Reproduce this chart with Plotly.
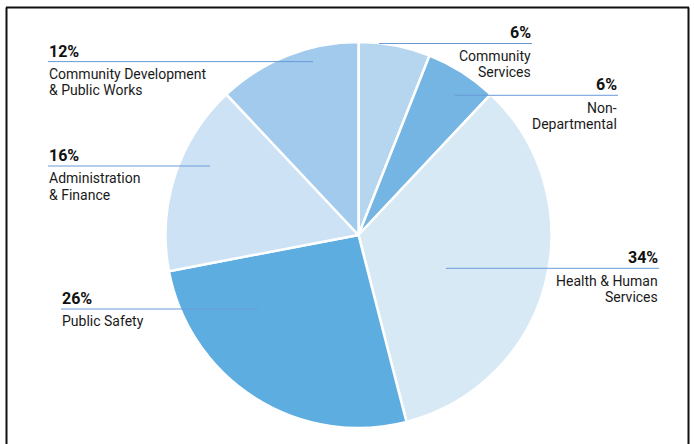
import plotly.graph_objects as go

W, H = 694, 444

# Budget shares by department, clockwise from 12 o'clock
departments = [
    "Community Services",
    "Non-Departmental",
    "Health & Human Services",
    "Public Safety",
    "Administration & Finance",
    "Community Development & Public Works",
]
shares = [6, 6, 34, 26, 16, 12]
name_lines = [
    ["Community", "Services"],
    ["Non-", "Departmental"],
    ["Health & Human", "Services"],
    ["Public Safety"],
    ["Administration", "& Finance"],
    ["Community Development", "& Public Works"],
]
slice_colors = ["#b6d6f0", "#74b5e3", "#d8e9f6", "#5dade0", "#cee2f5", "#a1caec"]

# Callout layout in pixels: text side, text edge x, leader y, leader far x
callouts = [
    ("right", 532, 43.5, 379),
    ("right", 618, 95.3, 455),
    ("right", 659, 268.3, 446),
    ("left", 61, 309.0, 258),
    ("left", 48, 166.0, 210),
    ("left", 48, 61.6, 313),
]

FONT = "Roboto, Liberation Sans, sans-serif"
LEADER = "#6a9bd8"

cx, cy, r = 358.5, 235.0, 193.0


def px(x):
    return x / W


def py(y):
    return 1 - y / H


fig = go.Figure(
    go.Pie(
        labels=departments,
        values=shares,
        sort=False,
        direction="clockwise",
        rotation=0,
        textinfo="none",
        hoverinfo="label+percent",
        marker=dict(colors=slice_colors, line=dict(color="white", width=2.5)),
        domain=dict(x=[px(cx - r), px(cx + r)], y=[py(cy + r), py(cy - r)]),
        showlegend=False,
    )
)

annotations = []
shapes = []
for v, lines, (side, tx, ly, fx) in zip(shares, name_lines, callouts):
    anchor = "left" if side == "left" else "right"
    shapes.append(
        dict(type="line", xref="paper", yref="paper",
             x0=px(tx), x1=px(fx), y0=py(ly), y1=py(ly),
             line=dict(color=LEADER, width=1))
    )
    annotations.append(
        dict(text=f"<b>{v}%</b>", x=px(tx), y=py(ly - 10.6), xref="paper", yref="paper",
             xanchor=anchor, yanchor="middle", showarrow=False, align=anchor, borderpad=0,
             font=dict(family=FONT, size=16, color="#111111"))
    )
    for i, line in enumerate(lines):
        annotations.append(
            dict(text=line, x=px(tx), y=py(ly + 12.3 + 16.5 * i), xref="paper", yref="paper",
                 xanchor=anchor, yanchor="middle", showarrow=False, align=anchor, borderpad=0,
                 font=dict(family=FONT, size=14, color="#1a1a1a"))
        )

# Outer frame (open at the bottom)
frame = dict(color="#111111", width=2)
shapes += [
    dict(type="line", xref="paper", yref="paper", x0=px(6), x1=px(689), y0=py(7.5), y1=py(7.5), line=frame),
    dict(type="line", xref="paper", yref="paper", x0=px(6.5), x1=px(6.5), y0=py(7.5), y1=py(450), line=frame),
    dict(type="line", xref="paper", yref="paper", x0=px(688.5), x1=px(688.5), y0=py(7.5), y1=py(450), line=frame),
]

fig.update_layout(
    width=W,
    height=H,
    margin=dict(l=0, r=0, t=0, b=0),
    paper_bgcolor="white",
    plot_bgcolor="white",
    annotations=annotations,
    shapes=shapes,
)

fig.write_html("out.html")
